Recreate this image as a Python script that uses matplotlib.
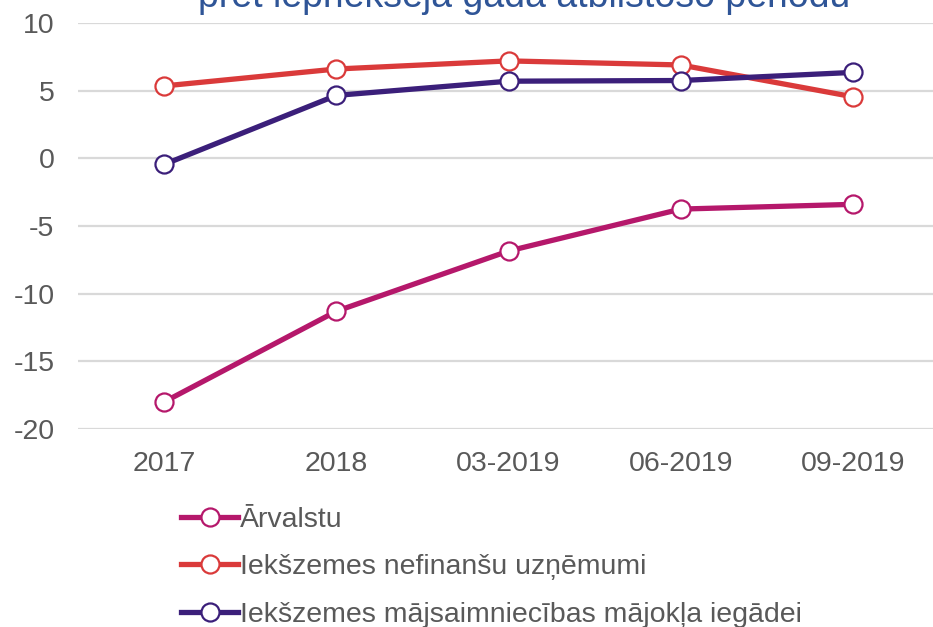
import matplotlib.pyplot as plt
from matplotlib.lines import Line2D

plt.rcParams['font.family'] = ['Liberation Sans', 'DejaVu Sans']

# dati
periodi = ['2017', '2018', '03-2019', '06-2019', '09-2019']
arvalstu = [-18.0, -11.3, -6.85, -3.75, -3.4]
nefinansu = [5.35, 6.6, 7.2, 6.9, 4.55]
majoklis = [-0.45, 4.65, 5.7, 5.75, 6.35]

nosaukumi = ['Ārvalstu', 'Iekšzemes nefinanšu uzņēmumi',
             'Iekšzemes mājsaimniecības mājokļa iegādei']
krasas = ['#B5186B', '#DA3A3A', '#3B1F7A']
yticks = [-20, -15, -10, -5, 0, 5, 10]

fig = plt.figure(figsize=(9.33, 6.27), dpi=100)
ax = fig.add_axes([78/933, 1 - 429/627, 861/933, 406/627])

x = range(len(periodi))
for dati, kr in zip([arvalstu, nefinansu, majoklis], krasas):
    ax.plot(x, dati, color=kr, lw=3.8, marker='o', ms=13,
            mfc='white', mec=kr, mew=1.6, zorder=3, clip_on=False)

ax.set_xlim(-0.5, 4.5)
ax.set_ylim(-20, 10)
ax.set_yticks(yticks)
ax.set_yticklabels([str(v) for v in yticks])
ax.set_xticks(list(x))
ax.set_xticklabels(periodi)
ax.grid(axis='y', color='#D9D9D9', lw=1.6)
ax.set_axisbelow(True)
for s in ax.spines.values():
    s.set_visible(False)
ax.tick_params(length=0, labelsize=20.5, colors='#595959')
ax.tick_params(axis='y', pad=17)
ax.tick_params(axis='x', pad=16)

# nogriezts virsraksts
fig.text(524/933, 1.005, 'pret iepriekšējā gada atbilstošo periodu',
         ha='center', va='center', fontsize=27, color='#2F5597')

# legenda
rokturi = [Line2D([], [], color=kr, lw=3.8, marker='o', ms=13, mfc='white',
                  mec=kr, mew=1.6) for kr in krasas]
fig.legend(rokturi, nosaukumi, loc='upper left',
           bbox_to_anchor=(170/933, 1 - 496/627), frameon=False,
           fontsize=20.5, handlelength=2.0, handletextpad=0.05,
           labelspacing=0.74, labelcolor='#595959', borderaxespad=0)

fig.savefig('out.png', dpi=100)
